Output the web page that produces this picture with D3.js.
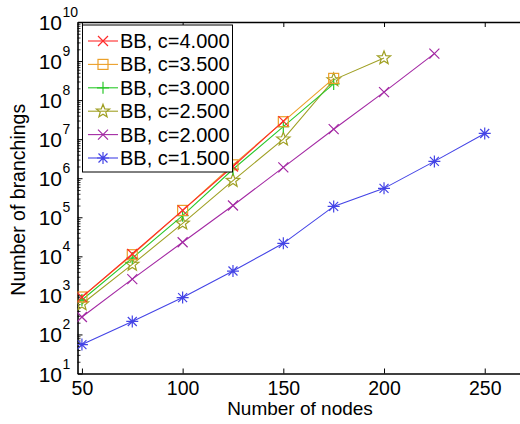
<!DOCTYPE html>
<html>
<head>
<meta charset="utf-8">
<script src="https://cdn.jsdelivr.net/npm/d3@7"></script>
<style>
  html, body { margin: 0; padding: 0; background: #fff; }
  svg { display: block; font-family: "Liberation Sans", Arial, sans-serif; }
</style>
</head>
<body>
<svg id="chart" width="520" height="424"></svg>
<script>
// Number of nodes on the x axis
const nodes = [50, 75, 100, 125, 150, 175, 200, 225, 250];

// Branching counts per node count, one array per parameter c
const bb40 = [900, 11500, 150000, 2.0e6, 2.9e7];
const bb35 = [910, 11000, 150000, 2.2e6, 2.8e7, 3.6e8];
const bb30 = [760, 9000, 110000, 1.7e6, 2.1e7, 2.6e8];
const bb25 = [600, 6200, 70000, 8.7e5, 1.0e7, 3.3e8, 1.2e9];
const bb20 = [280, 2600, 23000, 2.0e5, 1.9e6, 1.8e7, 1.6e8, 1.55e9];
const bb15 = [55, 215, 880, 4200, 21500, 1.9e5, 5.5e5, 2.7e6, 1.4e7];

const seriesLabels = ["BB, c=4.000", "BB, c=3.500", "BB, c=3.000", "BB, c=2.500", "BB, c=2.000", "BB, c=1.500"];
const seriesColors = ["#ff2a2a", "#eba02a", "#2ac82a", "#a0a024", "#a42aa4", "#4444e6"];
const seriesMarkers = ["x", "square", "plus", "star", "x", "asterisk"];
const seriesValues = [bb40, bb35, bb30, bb25, bb20, bb15];

const xTicks = [50, 100, 150, 200, 250];
const yExponents = [1, 2, 3, 4, 5, 6, 7, 8, 9, 10];

const svg = d3.select("#chart");
const W = 520, H = 424;
const pLeft = 77.5, pTop = 22, pBottom = 373.5, pRight = 525;

svg.append("rect").attr("width", W).attr("height", H).attr("fill", "#fff");

const x = d3.scaleLinear().domain([47.8, 270]).range([pLeft, pRight]);
const y = d3.scaleLog().domain([10, 1e10]).range([pBottom, pTop]);

svg.append("clipPath").attr("id", "plotclip")
  .append("rect").attr("x", pLeft).attr("y", pTop).attr("width", pRight - pLeft).attr("height", pBottom - pTop);

// Minor log ticks (2..9 in each decade)
const minor = [];
for (let e = 1; e < 10; e++) for (let m = 2; m <= 9; m++) minor.push(m * Math.pow(10, e));

const axisStyle = g => {
  g.selectAll("path.domain").attr("stroke", "#000").attr("stroke-width", 1.6);
  g.selectAll(".tick line").attr("stroke", "#000").attr("stroke-width", 1);
  g.selectAll(".tick text").remove();
};

// Bottom axis with labels
const gx = svg.append("g").attr("transform", `translate(0,${pBottom})`)
  .call(d3.axisBottom(x).tickValues(xTicks).tickSizeInner(-5).tickSizeOuter(0).tickFormat(""));
axisStyle(gx);
gx.selectAll(".tick").append("text")
  .attr("y", 21).attr("text-anchor", "middle")
  .attr("font-size", 19.5).attr("fill", "#000")
  .text(d => d);

// Top axis (ticks only)
const gxt = svg.append("g").attr("transform", `translate(0,${pTop})`)
  .call(d3.axisTop(x).tickValues(xTicks).tickSizeInner(-5).tickSizeOuter(0).tickFormat(""));
axisStyle(gxt);

// Left axis: decades with superscript labels
const gy = svg.append("g").attr("transform", `translate(${pLeft},0)`)
  .call(d3.axisLeft(y).tickValues(yExponents.map(e => Math.pow(10, e))).tickSizeInner(-5).tickSizeOuter(0).tickFormat(""));
axisStyle(gy);
svg.append("g").attr("transform", `translate(${pLeft},0)`)
  .call(d3.axisLeft(y).tickValues(minor).tickSizeInner(-3).tickSizeOuter(0).tickFormat(""))
  .call(g => { g.select("path.domain").remove(); g.selectAll(".tick line").attr("stroke", "#000").attr("stroke-width", 0.8); });

const ylab = svg.append("g");
yExponents.forEach(e => {
  ylab.append("text")
    .attr("x", 62).attr("y", y(Math.pow(10, e)) + 8)
    .attr("text-anchor", "end").attr("font-size", 21).attr("fill", "#000")
    .text("10");
  ylab.append("text")
    .attr("x", 62.5).attr("y", y(Math.pow(10, e)) - 5)
    .attr("font-size", 14).attr("fill", "#000")
    .text(e);
});

// Right axis
const gyr = svg.append("g").attr("transform", `translate(${pRight},0)`)
  .call(d3.axisRight(y).tickValues(yExponents.map(e => Math.pow(10, e))).tickSizeInner(-5).tickSizeOuter(0).tickFormat(""));
axisStyle(gyr);

// Axis titles
svg.append("text").attr("x", 300).attr("y", 415).attr("text-anchor", "middle")
  .attr("font-size", 19).attr("fill", "#000").text("Number of nodes");
svg.append("text").attr("transform", `translate(25,${(pTop + pBottom) / 2 + 2}) rotate(-90)`)
  .attr("text-anchor", "middle").attr("font-size", 19.5).attr("fill", "#000").text("Number of branchings");

// Marker drawing
function starPath(r) {
  const pts = [];
  for (let i = 0; i < 10; i++) {
    const rr = i % 2 === 0 ? r : r * 0.42;
    const a = -Math.PI / 2 + i * Math.PI / 5;
    pts.push([rr * Math.cos(a), rr * Math.sin(a)]);
  }
  return "M" + pts.map(p => p[0].toFixed(2) + "," + p[1].toFixed(2)).join("L") + "Z";
}
function drawMarker(g, type, color, cx, cy) {
  const m = g.append("g").attr("transform", `translate(${cx},${cy})`)
    .attr("fill", "none").attr("stroke", color).attr("stroke-width", 1.2);
  const r = 5;
  if (type === "x") {
    m.append("path").attr("d", `M${-r},${-r}L${r},${r}M${-r},${r}L${r},${-r}`);
  } else if (type === "square") {
    m.append("rect").attr("x", -5).attr("y", -5).attr("width", 10).attr("height", 10);
  } else if (type === "plus") {
    m.append("path").attr("d", `M${-6},0L6,0M0,${-6}L0,6`);
  } else if (type === "star") {
    m.append("path").attr("d", starPath(7));
  } else if (type === "asterisk") {
    m.append("path").attr("d", `M${-6},0L6,0M0,${-6}L0,6M-4.5,-4.5L4.5,4.5M-4.5,4.5L4.5,-4.5`);
  }
}

// Series: draw from lowest to highest so top ones lie over
const plot = svg.append("g").attr("clip-path", "url(#plotclip)");
const line = d3.line().x(d => x(d[0])).y(d => y(d[1]));
for (let i = seriesValues.length - 1; i >= 0; i--) {
  const pts = seriesValues[i].map((v, k) => [nodes[k], v]);
  plot.append("path").datum(pts).attr("d", line)
    .attr("fill", "none").attr("stroke", seriesColors[i]).attr("stroke-width", 1.1);
  pts.forEach(p => drawMarker(plot, seriesMarkers[i], seriesColors[i], x(p[0]), y(p[1])));
}

// Legend
const lg = svg.append("g");
lg.append("rect").attr("x", 82.5).attr("y", 25).attr("width", 150).attr("height", 147)
  .attr("fill", "#fff").attr("stroke", "#000").attr("stroke-width", 1);
seriesLabels.forEach((lab, i) => {
  const cy = 41 + i * 23.4;
  lg.append("line").attr("x1", 88).attr("x2", 118).attr("y1", cy).attr("y2", cy)
    .attr("stroke", seriesColors[i]).attr("stroke-width", 1.1);
  drawMarker(lg, seriesMarkers[i], seriesColors[i], 103, cy);
  lg.append("text").attr("x", 120).attr("y", cy + 7)
    .attr("font-size", 20).attr("fill", "#000").text(lab);
});
</script>
</body>
</html>
